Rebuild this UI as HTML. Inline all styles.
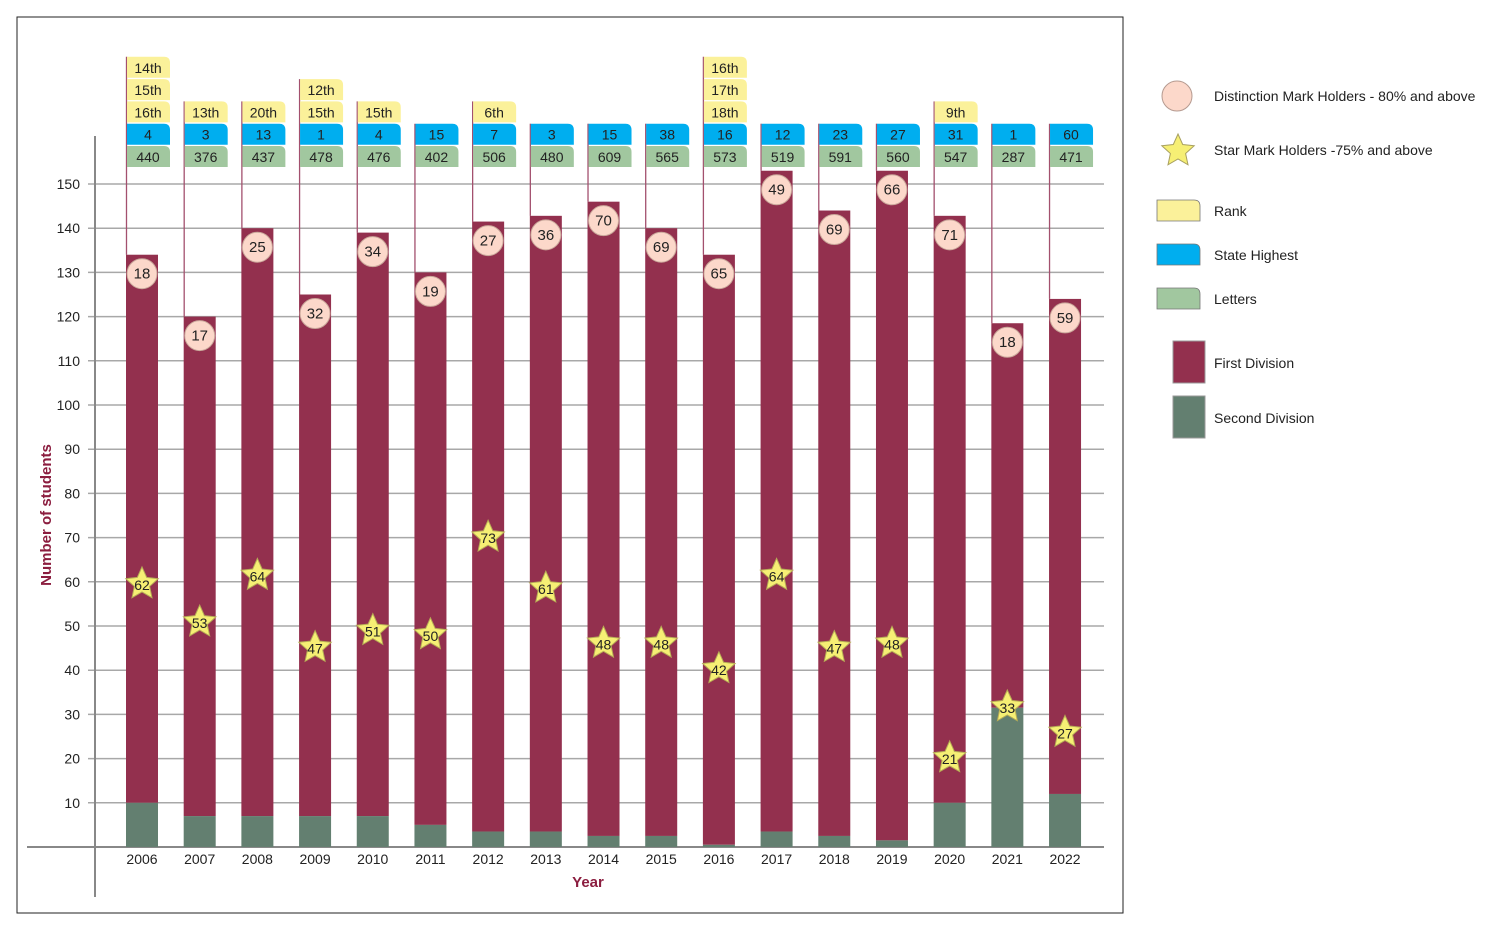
<!DOCTYPE html>
<html><head><meta charset="utf-8"><style>
body{margin:0;background:#fff;}
svg{display:block;font-family:"Liberation Sans",sans-serif;}
</style></head><body>
<svg id="c" width="1500" height="931"></svg>
<script>
const years=["2006","2007","2008","2009","2010","2011","2012","2013","2014","2015","2016","2017","2018","2019","2020","2021","2022"];
const totals=[134,120,140,125,139,130,141.5,142.8,146,140,134,153,144,153,142.8,118.5,124];
const secondDiv=[10,7,7,7,7,5,3.5,3.5,2.5,2.5,0.5,3.5,2.5,1.5,10,31.5,12];
const distinction=[18,17,25,32,34,19,27,36,70,69,65,49,69,66,71,18,59];
const starHolders=[62,53,64,47,51,50,73,61,48,48,42,64,47,48,21,33,27];
const ranks=[["16th","15th","14th"],["13th"],["20th"],["15th","12th"],["15th"],[],["6th"],[],[],[],["18th","17th","16th"],[],[],[],["9th"],[],[]];
const stateHighest=[4,3,13,1,4,15,7,3,15,38,16,12,23,27,31,1,60];
const letters=[440,376,437,478,476,402,506,480,609,565,573,519,591,560,547,287,471];
const yTicks=[10,20,30,40,50,60,70,80,90,100,110,120,130,140,150];

const svg=document.getElementById('c');const NS="http://www.w3.org/2000/svg";
function el(t,a,txt){const e=document.createElementNS(NS,t);for(const k in a)e.setAttribute(k,a[k]);if(txt!==undefined)e.textContent=txt;svg.appendChild(e);return e;}
const y=v=>847-v*4.42;
const xc=i=>142+i*57.69;
const BW=32;
function starPts(cx,cy,R,r){let p=[];for(let k=0;k<10;k++){const a=-Math.PI/2+k*Math.PI/5;const rr=k%2?r:R;p.push((cx+rr*Math.cos(a)).toFixed(1)+","+(cy+rr*Math.sin(a)).toFixed(1));}return p.join(" ");}
function tab(x,yy,w,h,fill){const r=6;return `M${x},${yy} H${x+w-r} Q${x+w},${yy} ${x+w},${yy+r} V${yy+h} H${x} Z`;}

let f=el('rect',{x:17,y:17,width:1106,height:896,fill:'none',stroke:'#222','stroke-width':1});


yTicks.forEach(t=>{
 let g=el('line',{x1:88,x2:1104,y1:y(t),y2:y(t),stroke:'#a8a8a8','stroke-width':1.5});
 
 let l=el('text',{x:80,y:y(t)+5,'text-anchor':'end','font-size':14,fill:'#222'},t);
 
});
let ax=el('line',{x1:95,x2:95,y1:136,y2:897,stroke:'#888','stroke-width':2});

let bx=el('line',{x1:27,x2:1104,y1:847,y2:847,stroke:'#888','stroke-width':2});


years.forEach((yr,i)=>{
 const x0=xc(i)-16;
 const nTabs=2+ranks[i].length;const topY=146-22.3*(nTabs-1);
 let fl=el('line',{x1:x0+0.5,x2:x0+0.5,y1:topY,y2:y(totals[i]),stroke:'#a3506e','stroke-width':1.3});
 
 let b1=el('rect',{x:x0,y:y(totals[i]),width:BW,height:y(secondDiv[i])-y(totals[i]),fill:'#93304e'});
 
 let b2=el('rect',{x:x0,y:y(secondDiv[i]),width:BW,height:847-y(secondDiv[i]),fill:'#637f70'});
 
 // tabs
 const rows=[{t:letters[i],c:'#a1c79f'},{t:stateHighest[i],c:'#00aeef'}].concat(ranks[i].map(r=>({t:r,c:'#fbf19a'})));
 rows.forEach((r,k)=>{const ty=146-22.3*k;
  let p=el('path',{d:tab(x0+1,ty,43,21),fill:r.c});
  
  let tt=el('text',{x:x0+22,y:ty+16,'text-anchor':'middle','font-size':14,fill:'#222'},r.t);
  
 });
 let c=el('circle',{cx:xc(i),cy:y(totals[i])+19,r:15,fill:'#fcd8ca',stroke:'#c9a79a','stroke-width':1});
 
 let ct=el('text',{x:xc(i),y:y(totals[i])+24,'text-anchor':'middle','font-size':15,fill:'#222'},distinction[i]);
 
 const sy=y(starHolders[i]*0.96);
 let s=el('polygon',{points:starPts(xc(i),sy,17,8),fill:'#f6ef74',stroke:'#b7ad56','stroke-width':1});
 
 let st=el('text',{x:xc(i),y:sy+6,'text-anchor':'middle','font-size':14,fill:'#222'},starHolders[i]);
 
 let xl=el('text',{x:xc(i),y:864,'text-anchor':'middle','font-size':14,fill:'#222'},yr);
 
});
let xt=el('text',{x:588,y:887,'text-anchor':'middle','font-size':15,'font-weight':'bold',fill:'#8b1d3f'},'Year');

let yt=el('text',{x:0,y:0,transform:'translate(51,515) rotate(-90)','text-anchor':'middle','font-size':15,'font-weight':'bold',fill:'#8b1d3f'},'Number of students');


// legend
const L=[];
let lc=el('circle',{cx:1177,cy:96,r:15,fill:'#fcd8ca',stroke:'#b59a90'});
let ls=el('polygon',{points:starPts(1178,151,17,8),fill:'#f6ef74',stroke:'#a8a060'});
[[200,'#fbf19a','legend-rank-icon'],[244,'#00aeef','legend-state-icon'],[288,'#a1c79f','legend-letters-icon']].forEach(a=>{
 let p=el('path',{d:tab(1157,a[0],43,21),fill:a[1],stroke:'#777','stroke-width':0.8});});
let l1=el('rect',{x:1173,y:341,width:32,height:42,fill:'#93304e',stroke:'#999'});
let l2=el('rect',{x:1173,y:396,width:32,height:42,fill:'#637f70',stroke:'#999'});
[[101,'Distinction Mark Holders - 80% and above'],[155,'Star Mark Holders -75% and above'],[216,'Rank'],[260,'State Highest'],[304,'Letters'],[368,'First Division'],[423,'Second Division']].forEach(a=>{
 let t=el('text',{x:1214,y:a[0],'font-size':14,fill:'#222'},a[1]);});
</script>
</body></html>
